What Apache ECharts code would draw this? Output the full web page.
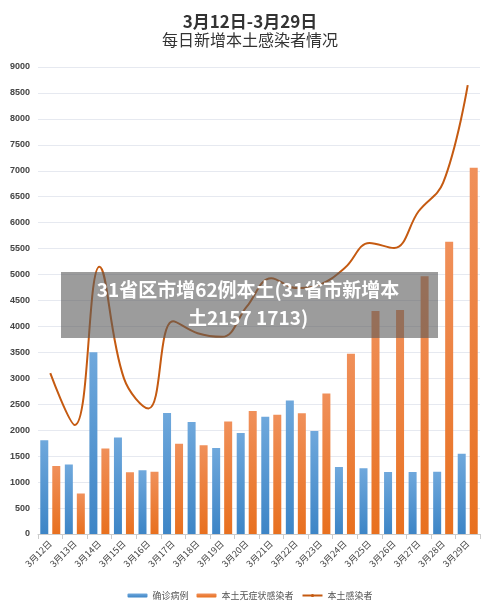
<!DOCTYPE html>
<html><head><meta charset="utf-8">
<script src="https://cdn.jsdelivr.net/npm/echarts@6/dist/echarts.min.js"></script>
<style>body{margin:0;background:#fff}#c{width:500px;height:611px}</style>
</head><body><div id="c"></div>
<script>
const categories=['3月12日','3月13日','3月14日','3月15日','3月16日','3月17日','3月18日','3月19日','3月20日','3月21日','3月22日','3月23日','3月24日','3月25日','3月26日','3月27日','3月28日','3月29日'];
const confirmed=[1807,1337,3504,1860,1228,2330,2157,1656,1945,2260,2575,1985,1290,1265,1195,1195,1200,1547];
const asymptomatic=[1310,780,1650,1190,1200,1740,1710,2170,2370,2300,2325,2710,3475,4300,4315,4965,5630,7057];
const localTotal=[3100,2100,5150,3000,2420,4100,3870,3800,4380,4930,4740,4810,5130,5610,5510,6220,6770,8650];
const yTicks={min:0,max:9000,interval:500};
const grad=(a,b)=>new echarts.graphic.LinearGradient(0,0,0,1,[{offset:0,color:a},{offset:1,color:b}]);
const ch=echarts.init(document.getElementById('c'));
ch.setOption({
 title:{text:'3月12日-3月29日',subtext:'每日新增本土感染者情况',left:'center',top:8,itemGap:2,
  textStyle:{fontSize:17,fontWeight:'bold',color:'#333',fontFamily:'Noto Sans CJK SC'},
  subtextStyle:{fontSize:16,color:'#333',fontFamily:'Noto Sans CJK SC'}},
 legend:{bottom:6,itemWidth:20,itemHeight:4,textStyle:{fontSize:9,color:'#555',fontFamily:'Noto Sans CJK SC'},
  data:['确诊病例','本土无症状感染者','本土感染者']},
 grid:{left:38,right:20,top:67,bottom:77},
 xAxis:{type:'category',data:categories,axisTick:{show:true,lineStyle:{color:'#ccc'}},axisLine:{lineStyle:{color:'#ccc'}},
  axisLabel:{rotate:45,fontSize:9,color:'#444',interval:0,fontFamily:'Noto Sans CJK SC'}},
 yAxis:{type:'value',...yTicks,axisLabel:{fontSize:9,color:'#444',fontWeight:'bold',formatter:v=>String(v)},splitLine:{lineStyle:{color:'#e6e9f0'}},axisLine:{show:false}},
 series:[
  {name:'确诊病例',type:'bar',data:confirmed,barWidth:8,barGap:'50%',itemStyle:{color:grad('#6fa8dc','#3d85c6')}},
  {name:'本土无症状感染者',type:'bar',data:asymptomatic,barWidth:8,itemStyle:{color:grad('#f0905a','#e8701f')}},
  {name:'本土感染者',type:'line',data:localTotal,smooth:0.4,symbol:'none',lineStyle:{color:'#c55a11',width:2},itemStyle:{color:'#c55a11'},z:5}
 ],
 graphic:[
  {type:'rect',left:61,top:272,shape:{width:377,height:66},style:{fill:'rgba(90,90,90,0.6)'},z:100},
  {type:'text',x:248,y:276,style:{text:'31省区市增62例本土(31省市新增本\n土2157 1713)',fill:'#fff',font:'bold 19px "Noto Sans CJK SC"',align:'center',lineHeight:28},z:101}
 ]
});
</script></body></html>
